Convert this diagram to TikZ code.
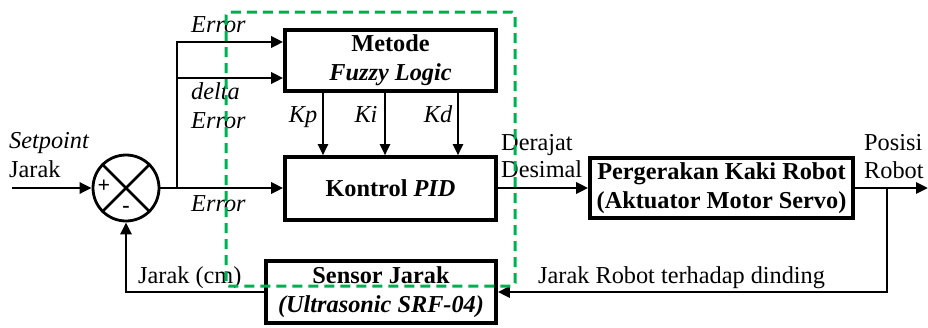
\documentclass[tikz,border=0pt]{standalone}
\usepackage{fontspec}
\setmainfont{Liberation Serif}
\usetikzlibrary{arrows.meta}
\definecolor{dashgreen}{RGB}{0,176,80}
\tikzset{
  blockbox/.style={draw, line width=3.6pt, inner sep=0pt, align=center,
    font=\fontsize{24.3}{29}\selectfont\bfseries},
  wire/.style={line width=2.9pt, -{Triangle[length=12pt,width=11pt]}},
  plainwire/.style={line width=2.9pt},
  gainwire/.style={line width=2pt, -{Triangle[length=11pt,width=10pt]}},
  lbl/.style={inner sep=0pt, anchor=base west, font=\fontsize{24.3}{29}\selectfont},
  ilbl/.style={lbl, font=\fontsize{24.3}{29}\selectfont\itshape},
  gainlbl/.style={inner sep=0pt, anchor=base, font=\fontsize{24.3}{29}\selectfont\itshape},
  groupframe/.style={draw=dashgreen, line width=3pt, dash pattern=on 10pt off 6pt, rounded corners=3pt}
}
\begin{document}
\begin{tikzpicture}[x=1pt, y=-1pt]
\useasboundingbox (0,0) rectangle (928,327);

% blocks
\node[blockbox, minimum width=211pt, minimum height=61pt] (fuzzy) at (390.5,60.5)
  {Metode\\\textit{Fuzzy Logic}};
\node[blockbox, minimum width=211pt, minimum height=63pt] (pid) at (390.5,188.5)
  {Kontrol \textit{PID}};
\node[blockbox, minimum width=263pt, minimum height=60pt] (act) at (721.5,188)
  {Pergerakan Kaki Robot\\(Aktuator Motor Servo)};
\node[blockbox, minimum width=230pt, minimum height=62pt] (sensor) at (381,292)
  {Sensor Jarak\\\textit{(Ultrasonic SRF-04)}};

% summing junction
\node[draw, circle, line width=2.8pt, minimum size=66pt, inner sep=0pt] (sum) at (126,188) {};
\draw[line width=2.6pt] (sum.north west) -- (sum.south east) (sum.north east) -- (sum.south west);
\node[inner sep=0pt, font=\fontsize{22}{22}\selectfont\bfseries] (plus) at (104,186) {+};
\node[inner sep=0pt, font=\fontsize{22}{22}\selectfont\bfseries] (minus) at (126,209) {-};

% helper points
\coordinate (input) at (12,188);
\coordinate (branch) at (177,188);
\coordinate (etop) at (177,42);
\coordinate (edelta) at (177,78);
\coordinate (kp) at (323,0);
\coordinate (ki) at (385,0);
\coordinate (kd) at (458,0);
\coordinate (output) at (928,188);
\coordinate (tap) at (887,188);
\coordinate (tapdown) at (887,292);
\coordinate (fbcorner) at (126,292);

% forward path
\draw[wire] (input) -- (sum.west);
\draw[wire] (sum.east) -- (pid.west |- branch);
\draw[plainwire, line cap=rect] (branch) -- (etop);
\draw[wire] (etop) -- (fuzzy.west |- etop);
\draw[wire] (edelta) -- (fuzzy.west |- edelta);
\draw[gainwire] (fuzzy.south -| kp) -- (pid.north -| kp);
\draw[gainwire] (fuzzy.south -| ki) -- (pid.north -| ki);
\draw[gainwire] (fuzzy.south -| kd) -- (pid.north -| kd);
\draw[wire] (pid.east |- act.west) -- (act.west);
\draw[wire] (act.east) -- (output);

% feedback path
\draw[wire] (tap) -- (tapdown) -- (sensor.east |- tapdown);
\draw[wire] (sensor.west) -- (fbcorner) -- (sum.south);

% labels
\node[ilbl] (lerr1) at (191,32) {Error};
\node[ilbl] (ldelta) at (191,99) {delta};
\node[ilbl] (lerr2) at (191,128) {Error};
\node[ilbl] (lerr3) at (191,211) {Error};
\node[ilbl] (lset) at (9,148) {Setpoint};
\node[lbl] (ljarak) at (9,177) {Jarak};
\node[gainlbl] (lkp) at (303,122) {Kp};
\node[gainlbl] (lki) at (366,122) {Ki};
\node[gainlbl] (lkd) at (438,122) {Kd};
\node[lbl] (lder) at (501,150) {Derajat};
\node[lbl] (ldes) at (501,177) {Desimal};
\node[lbl] (lpos) at (864,150) {Posisi};
\node[lbl] (lrob) at (864,178) {Robot};
\node[lbl] (lcm) at (138,283) {Jarak (cm)};
\node[lbl] (lwall) at (538,283) {Jarak Robot terhadap dinding};

% dashed grouping frame around the fuzzy-PID controller
\draw[groupframe] (226,12) rectangle (515,286);
\end{tikzpicture}
\end{document}
